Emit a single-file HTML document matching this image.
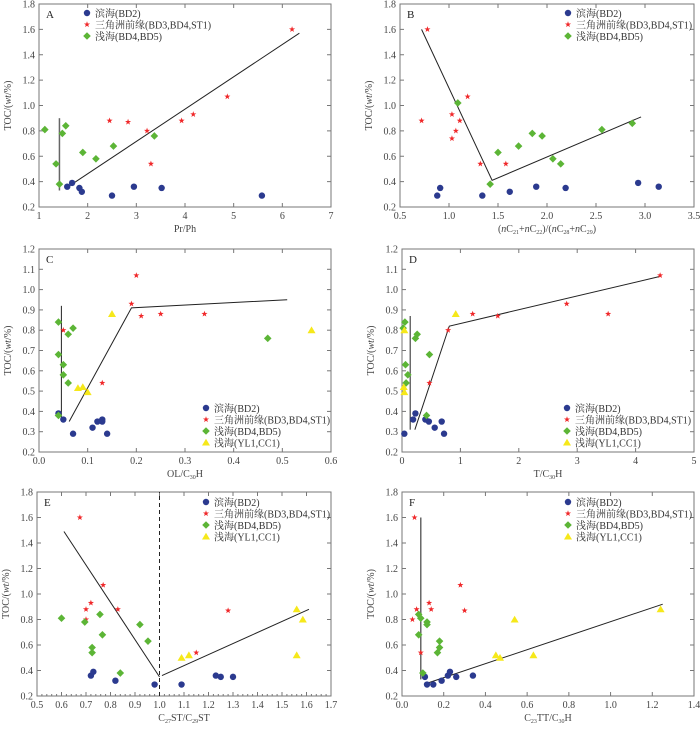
<!DOCTYPE html>
<html><head><meta charset="utf-8">
<style>
body{margin:0;background:#fff;}
svg text{font-family:"Liberation Serif","Noto Serif CJK SC","Noto Sans CJK SC",serif;}
</style></head>
<body>
<svg id="chart" width="700" height="725" viewBox="0 0 700 725" xmlns="http://www.w3.org/2000/svg"></svg>
<script>
// ---------- data ----------
const aBlueX=[1.58,1.68,1.83,1.88,2.5,2.95,3.52,5.58];
const aBlueY=[0.36,0.39,0.35,0.32,0.29,0.36,0.35,0.29];
const aRedX=[2.45,2.83,3.22,3.3,3.93,4.17,4.87,6.2];
const aRedY=[0.88,0.87,0.80,0.54,0.88,0.93,1.07,1.6];
const aGreenX=[1.12,1.35,1.42,1.48,1.55,1.9,2.17,2.53,3.37];
const aGreenY=[0.81,0.54,0.38,0.78,0.84,0.63,0.58,0.68,0.76];

const bBlueX=[0.88,0.91,1.34,1.62,1.89,2.19,2.93,3.14];
const bBlueY=[0.29,0.35,0.29,0.32,0.36,0.35,0.39,0.36];
const bRedX=[0.72,0.78,1.03,1.03,1.07,1.11,1.19,1.32,1.58];
const bRedY=[0.88,1.6,0.93,0.74,0.8,0.88,1.07,0.54,0.54];
const bGreenX=[1.09,1.42,1.5,1.71,1.85,1.95,2.06,2.14,2.56,2.87];
const bGreenY=[1.02,0.38,0.63,0.68,0.78,0.76,0.58,0.54,0.81,0.86];

const cBlueX=[0.04,0.05,0.07,0.11,0.12,0.13,0.13,0.14];
const cBlueY=[0.39,0.36,0.29,0.32,0.35,0.36,0.35,0.29];
const cRedX=[0.05,0.13,0.19,0.2,0.21,0.25,0.34];
const cRedY=[0.80,0.54,0.93,1.07,0.87,0.88,0.88];
const cGreenX=[0.04,0.04,0.04,0.05,0.05,0.06,0.06,0.07,0.47];
const cGreenY=[0.84,0.68,0.38,0.63,0.58,0.78,0.54,0.81,0.76];
const cYellowX=[0.08,0.09,0.1,0.15,0.56];
const cYellowY=[0.515,0.52,0.495,0.88,0.80];

const dBlueX=[0.04,0.19,0.23,0.4,0.46,0.56,0.68,0.72];
const dBlueY=[0.29,0.36,0.39,0.36,0.35,0.32,0.35,0.29];
const dRedX=[0.47,0.79,1.21,1.64,2.82,3.53,4.42];
const dRedY=[0.54,0.80,0.88,0.87,0.93,0.88,1.07];
const dGreenX=[0.02,0.05,0.06,0.07,0.1,0.23,0.26,0.42,0.47];
const dGreenY=[0.81,0.84,0.63,0.54,0.58,0.76,0.78,0.38,0.68];
const dYellowX=[0.04,0.03,0.04,0.92];
const dYellowY=[0.80,0.52,0.495,0.88];

const eBlueX=[0.72,0.73,0.82,0.98,1.09,1.23,1.25,1.3];
const eBlueY=[0.36,0.39,0.32,0.29,0.29,0.36,0.35,0.35];
const eRedX=[0.675,0.70,0.70,0.72,0.77,0.83,1.15,1.28];
const eRedY=[1.6,0.88,0.80,0.93,1.07,0.88,0.54,0.87];
const eGreenX=[0.6,0.695,0.725,0.725,0.757,0.767,0.84,0.92,0.953];
const eGreenY=[0.81,0.78,0.58,0.54,0.84,0.68,0.38,0.76,0.63];
const eYellowX=[1.09,1.12,1.56,1.585,1.56];
const eYellowY=[0.5,0.52,0.88,0.80,0.52];

const fBlueX=[0.11,0.12,0.15,0.19,0.22,0.23,0.26,0.34];
const fBlueY=[0.35,0.29,0.29,0.32,0.36,0.39,0.35,0.36];
const fRedX=[0.05,0.06,0.07,0.09,0.13,0.14,0.28,0.30];
const fRedY=[0.80,1.6,0.88,0.54,0.93,0.88,1.07,0.87];
const fGreenX=[0.08,0.08,0.09,0.10,0.12,0.12,0.17,0.18,0.18];
const fGreenY=[0.84,0.68,0.81,0.38,0.78,0.76,0.54,0.63,0.58];
const fYellowX=[0.45,0.47,0.54,0.63,1.24];
const fYellowY=[0.52,0.50,0.80,0.52,0.88];

const legendLabels=["滨海(BD2)","三角洲前缘(BD3,BD4,ST1)","浅海(BD4,BD5)","浅海(YL1,CC1)"];

const NS="http://www.w3.org/2000/svg";
const svg=document.getElementById('chart');
function mk(tag,attrs,parent){const e=document.createElementNS(NS,tag);for(const k in attrs)e.setAttribute(k,attrs[k]);(parent||svg).appendChild(e);return e;}

function marker(g,type,px,py){
  let e;
  if(type===0){e=mk('circle',{cx:px,cy:py,r:3.2,fill:'#2b3a8f'},g);}
  else if(type===1){
    let p=[];for(let i=0;i<10;i++){const r=i%2?1.3:3.2;const a=-Math.PI/2+i*Math.PI/5;p.push((px+r*Math.cos(a)).toFixed(2)+','+(py+r*Math.sin(a)).toFixed(2));}
    e=mk('polygon',{points:p.join(' '),fill:'#f0282a'},g);}
  else if(type===2){e=mk('polygon',{points:`${px},${py-3.8} ${px+3.8},${py} ${px},${py+3.8} ${px-3.8},${py}`,fill:'#5cb536'},g);}
  else {e=mk('polygon',{points:`${px},${py-3.8} ${px+4},${py+3} ${px-4},${py+3}`,fill:'#f6e81a'},g);}
  return e;
}

function panel(o){
  const g=mk('g',{});
  
  
  const L=o.L,R=o.R,T=o.T,B=o.B;
  const sx=v=>L+(v-o.x0)/(o.x1-o.x0)*(R-L);
  const sy=v=>B-(v-o.y0)/(o.y1-o.y0)*(B-T);
  const fr=mk('rect',{x:L,y:T,width:R-L,height:B-T,fill:'none',stroke:'#777','stroke-width':1},g);
  
  
  for(let i=0;i<o.xt.length;i++){const v=o.xt[i];const x=sx(v);
    mk('line',{x1:x,y1:B,x2:x,y2:B-4,stroke:'#777'},g);
    mk('line',{x1:x,y1:T,x2:x,y2:T+4,stroke:'#777'},g);
    const t=mk('text',{x:x,y:B+12,'font-size':10,'text-anchor':'middle',fill:'#444'},g);t.textContent=o.xl[i];
    
    
  }
  if(o.minor){for(let v=o.x0;v<=o.x1+1e-9;v+=o.minor){const x=sx(v);mk('line',{x1:x,y1:B,x2:x,y2:B-2,stroke:'#777'},g);}}
  for(let i=0;i<o.yt.length;i++){const v=o.yt[i];const y=sy(v);
    mk('line',{x1:L,y1:y,x2:L+4,y2:y,stroke:'#777'},g);
    mk('line',{x1:R,y1:y,x2:R-4,y2:y,stroke:'#777'},g);
    const t=mk('text',{x:L-4,y:y+3.5,'font-size':10,'text-anchor':'end',fill:'#444'},g);t.textContent=o.yl[i];
    
    
  }
  const xt=mk('text',{x:(L+R)/2,y:B+25,'font-size':10,'text-anchor':'middle',fill:'#444'},g);
  xt.innerHTML=o.xtitle;
  
  
  const yt=mk('text',{x:0,y:0,'font-size':10,'text-anchor':'middle',fill:'#444',transform:`translate(${L-28},${(T+B)/2}) rotate(-90)`},g);
  yt.innerHTML='TOC/(<tspan font-style="italic">wt</tspan>/%)';
  
  
  const lt=mk('text',{x:L+7,y:T+14,'font-size':11,fill:'#222'},g);lt.textContent=o.letter;
  
  
  for(const ln of o.lines){
    const pts=[];for(let i=0;i<ln.x.length;i++)pts.push(sx(ln.x[i])+','+sy(ln.y[i]));
    const pl=mk('polyline',{points:pts.join(' '),fill:'none',stroke:ln.c||'#222','stroke-width':ln.w||1,'stroke-dasharray':ln.dash||'none'},g);
    
    
  }
  for(let s=0;s<o.series.length;s++){const sr=o.series[s];
    for(let i=0;i<sr.x.length;i++){const m=marker(g,sr.t,sx(sr.x[i]),sy(sr.y[i]));
      
      }
  }
  for(let s=0;s<o.series.length;s++){const t=o.series[s].t;const ly=o.lgY+s*11.5;
    marker(g,t,o.lgX,ly);
    const tx=mk('text',{x:o.lgX+8,y:ly+3.8,'font-size':10,fill:'#333'},g);tx.textContent=legendLabels[t];
    
    
  }
}
const yA=[0.2,0.4,0.6,0.8,1.0,1.2,1.4,1.6,1.8],yAl=yA.map(v=>v.toFixed(1));
const yC=[0.2,0.3,0.4,0.5,0.6,0.7,0.8,0.9,1.0,1.1,1.2],yCl=yC.map(v=>v.toFixed(1));
panel({letter:'A',L:39,R:331,T:4,B:207,x0:1,x1:7,y0:0.2,y1:1.8,xt:[1,2,3,4,5,6,7],xl:['1','2','3','4','5','6','7'],yt:yA,yl:yAl,
 xtitle:'Pr/Ph',lgX:87,lgY:13,
 lines:[{x:[1.42,1.42],y:[0.33,0.9],c:'#666',w:1.5},{x:[1.6,6.35],y:[0.36,1.57]}],
 series:[{t:0,x:aBlueX,y:aBlueY},{t:1,x:aRedX,y:aRedY},{t:2,x:aGreenX,y:aGreenY}]});
panel({letter:'B',L:400,R:694,T:4,B:207,x0:0.5,x1:3.5,y0:0.2,y1:1.8,xt:[0.5,1,1.5,2,2.5,3,3.5],xl:['0.5','1.0','1.5','2.0','2.5','3.0','3.5'],yt:yA,yl:yAl,
 xtitle:'(<tspan font-style="italic">n</tspan>C<tspan font-size="6" dy="2">21</tspan><tspan dy="-2">+</tspan><tspan font-style="italic">n</tspan>C<tspan font-size="6" dy="2">22</tspan><tspan dy="-2">)/(</tspan><tspan font-style="italic">n</tspan>C<tspan font-size="6" dy="2">28</tspan><tspan dy="-2">+</tspan><tspan font-style="italic">n</tspan>C<tspan font-size="6" dy="2">29</tspan><tspan dy="-2">)</tspan>',lgX:568,lgY:13,
 lines:[{x:[0.72,1.44,2.96],y:[1.6,0.41,0.91]}],
 series:[{t:0,x:bBlueX,y:bBlueY},{t:1,x:bRedX,y:bRedY},{t:2,x:bGreenX,y:bGreenY}]});
panel({letter:'C',L:39,R:331,T:249,B:452,x0:0,x1:0.6,y0:0.2,y1:1.2,xt:[0,0.1,0.2,0.3,0.4,0.5,0.6],xl:['0.0','0.1','0.2','0.3','0.4','0.5','0.6'],yt:yC,yl:yCl,
 xtitle:'OL/C<tspan font-size="6" dy="2">30</tspan><tspan dy="-2">H</tspan>',lgX:206,lgY:408,
 lines:[{x:[0.046,0.046],y:[0.36,0.92]},{x:[0.062,0.19,0.51],y:[0.35,0.91,0.95]}],
 series:[{t:0,x:cBlueX,y:cBlueY},{t:1,x:cRedX,y:cRedY},{t:2,x:cGreenX,y:cGreenY},{t:3,x:cYellowX,y:cYellowY}]});
panel({letter:'D',L:402,R:694,T:249,B:452,x0:0,x1:5,y0:0.2,y1:1.2,xt:[0,1,2,3,4,5],xl:['0','1','2','3','4','5'],yt:yC,yl:yCl,
 xtitle:'T/C<tspan font-size="6" dy="2">30</tspan><tspan dy="-2">H</tspan>',lgX:567,lgY:408,
 lines:[{x:[0.14,0.14],y:[0.31,0.87]},{x:[0.22,0.81,4.42],y:[0.31,0.82,1.065]}],
 series:[{t:0,x:dBlueX,y:dBlueY},{t:1,x:dRedX,y:dRedY},{t:2,x:dGreenX,y:dGreenY},{t:3,x:dYellowX,y:dYellowY}]});
panel({letter:'E',L:37,R:331,T:492,B:696,x0:0.5,x1:1.7,y0:0.2,y1:1.8,xt:[0.5,0.6,0.7,0.8,0.9,1.0,1.1,1.2,1.3,1.4,1.5,1.6,1.7],xl:['0.5','0.6','0.7','0.8','0.9','1.0','1.1','1.2','1.3','1.4','1.5','1.6','1.7'],yt:yA,yl:yAl,minor:0.02,
 xtitle:'C<tspan font-size="6" dy="2">27</tspan><tspan dy="-2">ST/C</tspan><tspan font-size="6" dy="2">29</tspan><tspan dy="-2">ST</tspan>',lgX:206,lgY:502,
 lines:[{x:[1.0,1.0],y:[0.2,1.8],dash:'4,3'},{x:[0.61,1.0],y:[1.49,0.35]},{x:[1.01,1.61],y:[0.36,0.88]}],
 series:[{t:0,x:eBlueX,y:eBlueY},{t:1,x:eRedX,y:eRedY},{t:2,x:eGreenX,y:eGreenY},{t:3,x:eYellowX,y:eYellowY}]});
panel({letter:'F',L:402,R:694,T:492,B:696,x0:0,x1:1.4,y0:0.2,y1:1.8,xt:[0,0.2,0.4,0.6,0.8,1.0,1.2,1.4],xl:['0.0','0.2','0.4','0.6','0.8','1.0','1.2','1.4'],yt:yA,yl:yAl,
 xtitle:'C<tspan font-size="6" dy="2">23</tspan><tspan dy="-2">TT/C</tspan><tspan font-size="6" dy="2">30</tspan><tspan dy="-2">H</tspan>',lgX:568,lgY:502,
 lines:[{x:[0.09,0.09],y:[0.33,1.6],c:'#666',w:1.5},{x:[0.12,1.25],y:[0.30,0.92]}],
 series:[{t:0,x:fBlueX,y:fBlueY},{t:1,x:fRedX,y:fRedY},{t:2,x:fGreenX,y:fGreenY},{t:3,x:fYellowX,y:fYellowY}]});
</script>
</body></html>
